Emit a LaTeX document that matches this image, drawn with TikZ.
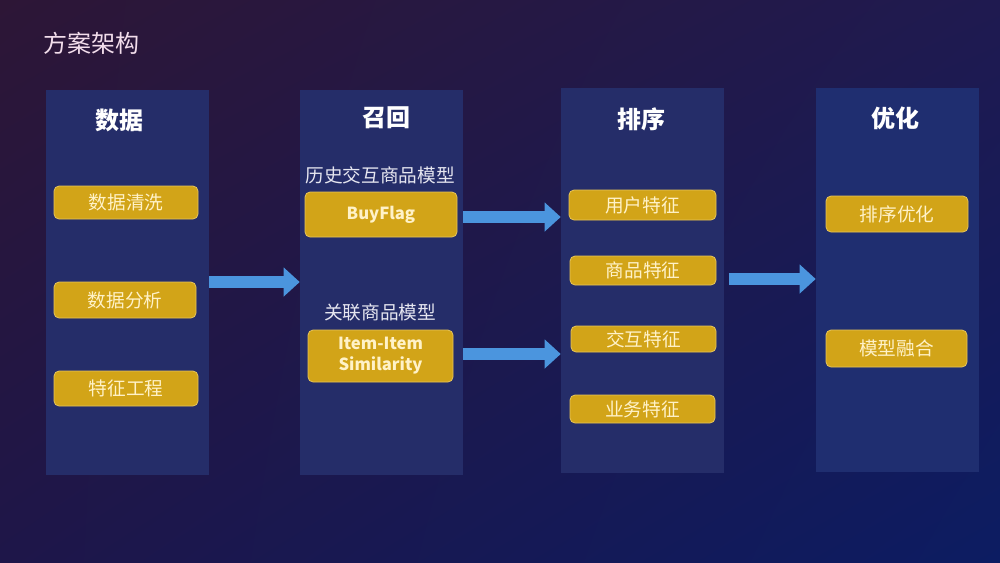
\documentclass[tikz,border=0pt]{standalone}
\usepackage{fontspec}
\setmainfont{Noto Sans CJK SC}
\usetikzlibrary{arrows.meta,shadings}
\definecolor{bgUL}{HTML}{2D1636}
\definecolor{bgUR}{HTML}{1F1A50}
\definecolor{bgLL}{HTML}{1E1649}
\definecolor{bgLR}{HTML}{0C1C62}
\definecolor{colfill}{HTML}{252D69}
\definecolor{colfillb}{HTML}{1F2E70}
\definecolor{gold}{HTML}{D2A418}
\definecolor{goldedge}{HTML}{E6C45A}
\definecolor{boxtext}{HTML}{FFF2C8}
\definecolor{lbltext}{HTML}{E6E6F0}
\definecolor{titletext}{HTML}{F2DDEB}
\definecolor{arrowblue}{HTML}{4B95DE}
\tikzset{
  col/.style={fill=colfill, draw=none, minimum width=122.25pt, inner sep=0pt},
  ybox/.style={rounded corners=3.75pt, fill=gold, draw=goldedge, line width=0.6pt,
    text=boxtext, font=\fontsize{14}{16}\selectfont, inner sep=0pt, align=center},
  coltitle/.style={text=white, font=\fontsize{18}{20}\selectfont\bfseries},
  lbl/.style={text=lbltext, font=\fontsize{14}{16}\selectfont},
  latin/.style={font=\fontsize{12.5}{15.75}\selectfont\bfseries},
  bigarrow/.style={draw=arrowblue, line width=9pt, -{Triangle[length=12pt,width=21pt]}}
}
\begin{document}
\begin{tikzpicture}[x=0.75pt,y=-0.75pt]
\useasboundingbox (0,0) rectangle (1000,562);
\shade[upper left=bgUL, upper right=bgUR, lower left=bgLL, lower right=bgLR] (0,0) rectangle (1000,562);

\node[text=titletext, font=\fontsize{18}{20}\selectfont] (title) at (91,43) {方案架构};

% columns
\node[col, minimum height=288.75pt] (col1) at (127.5,282.5) {};
\node[col, minimum height=288.75pt] (col2) at (381.5,282.5) {};
\node[col, minimum height=288.75pt] (col3) at (642.5,280.5) {};
\node[col, fill=colfillb, minimum height=288pt] (col4) at (897.5,280) {};

% column titles
\node[coltitle] (t1) at (119,120) {数据};
\node[coltitle] (t2) at (386,118) {召回};
\node[coltitle] (t3) at (641,119) {排序};
\node[coltitle] (t4) at (895,118) {优化};

% column 1
\node[ybox, minimum width=108pt, minimum height=24.75pt] (b11) at (126,202.5) {数据清洗};
\node[ybox, minimum width=106.5pt, minimum height=27pt] (b12) at (125,300) {数据分析};
\node[ybox, minimum width=108pt, minimum height=26.25pt] (b13) at (126,388.5) {特征工程};

% column 2
\node[lbl] (l21) at (380,175) {历史交互商品模型};
\node[ybox, latin, minimum width=114pt, minimum height=33.75pt] (bf) at (381,214.5) {BuyFlag};
\node[lbl] (l22) at (380,312) {关联商品模型};
\node[ybox, latin, minimum width=108.75pt, minimum height=39pt] (ii) at (380.5,356) {Item-Item\\Similarity};

% column 3
\node[ybox, minimum width=110.25pt, minimum height=22.5pt] (b31) at (642.5,205) {用户特征};
\node[ybox, minimum width=109.5pt, minimum height=21.75pt] (b32) at (643,270.5) {商品特征};
\node[ybox, minimum width=108.75pt, minimum height=19.5pt] (b33) at (643.5,339) {交互特征};
\node[ybox, minimum width=108.75pt, minimum height=21pt] (b34) at (642.5,409) {业务特征};

% column 4
\node[ybox, minimum width=106.5pt, minimum height=27pt] (b41) at (897,214) {排序优化};
\node[ybox, minimum width=105.75pt, minimum height=27.75pt] (b42) at (896.5,348.5) {模型融合};

% arrows
\coordinate (y1) at (0,282);
\coordinate (y2) at (0,217);
\coordinate (y3) at (0,354);
\coordinate (y4) at (0,279);
\draw[bigarrow] (col1.east |- y1) -- (col2.west |- y1);
\draw[bigarrow] (col2.east |- y2) -- (col3.west |- y2);
\draw[bigarrow] (col2.east |- y3) -- (col3.west |- y3);
\draw[bigarrow, shorten <=3.5pt] (col3.east |- y4) -- (col4.west |- y4);
\end{tikzpicture}
\end{document}
